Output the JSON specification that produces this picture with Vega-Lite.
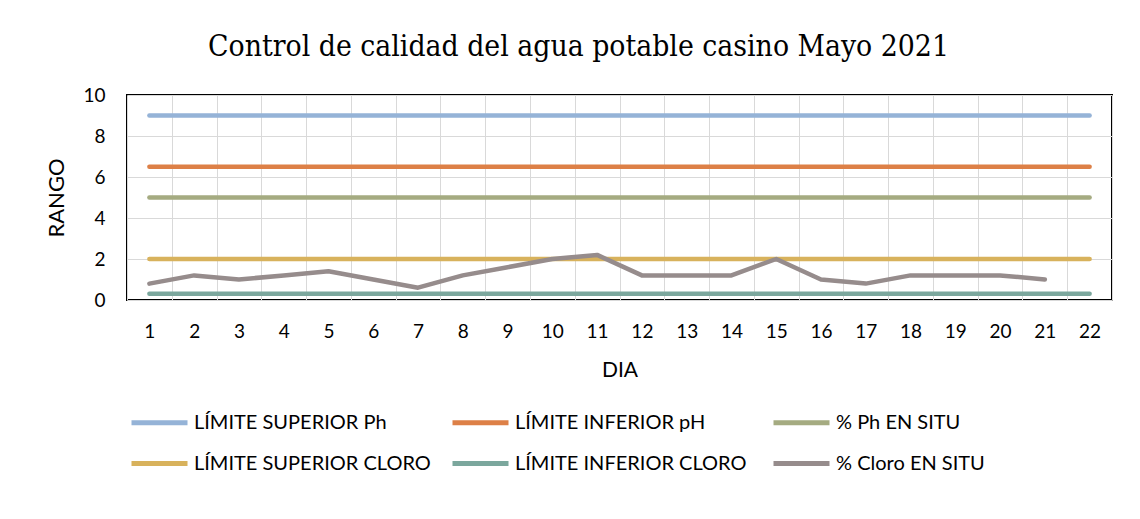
{
  "$schema": "https://vega.github.io/schema/vega-lite/v6.json",
  "autosize": {"type": "none"},
  "width": 985,
  "height": 205,
  "padding": {"left": 127, "top": 95, "right": 28, "bottom": 219},
  "background": "white",
  "title": {
    "text": "Control de calidad del agua potable casino Mayo 2021",
    "font": "DejaVu Serif Condensed",
    "fontSize": 29.8,
    "fontWeight": "normal",
    "color": "#000000",
    "anchor": "middle",
    "baseline": "alphabetic",
    "dx": -41,
    "offset": 0
  },
  "data": {
    "values": [
      {"serie": "LÍMITE SUPERIOR Ph", "dia": 1, "valor": 9}, {"serie": "LÍMITE SUPERIOR Ph", "dia": 2, "valor": 9}, {"serie": "LÍMITE SUPERIOR Ph", "dia": 3, "valor": 9}, {"serie": "LÍMITE SUPERIOR Ph", "dia": 4, "valor": 9}, {"serie": "LÍMITE SUPERIOR Ph", "dia": 5, "valor": 9}, {"serie": "LÍMITE SUPERIOR Ph", "dia": 6, "valor": 9}, {"serie": "LÍMITE SUPERIOR Ph", "dia": 7, "valor": 9}, {"serie": "LÍMITE SUPERIOR Ph", "dia": 8, "valor": 9}, {"serie": "LÍMITE SUPERIOR Ph", "dia": 9, "valor": 9}, {"serie": "LÍMITE SUPERIOR Ph", "dia": 10, "valor": 9}, {"serie": "LÍMITE SUPERIOR Ph", "dia": 11, "valor": 9}, {"serie": "LÍMITE SUPERIOR Ph", "dia": 12, "valor": 9}, {"serie": "LÍMITE SUPERIOR Ph", "dia": 13, "valor": 9}, {"serie": "LÍMITE SUPERIOR Ph", "dia": 14, "valor": 9}, {"serie": "LÍMITE SUPERIOR Ph", "dia": 15, "valor": 9}, {"serie": "LÍMITE SUPERIOR Ph", "dia": 16, "valor": 9}, {"serie": "LÍMITE SUPERIOR Ph", "dia": 17, "valor": 9}, {"serie": "LÍMITE SUPERIOR Ph", "dia": 18, "valor": 9}, {"serie": "LÍMITE SUPERIOR Ph", "dia": 19, "valor": 9}, {"serie": "LÍMITE SUPERIOR Ph", "dia": 20, "valor": 9}, {"serie": "LÍMITE SUPERIOR Ph", "dia": 21, "valor": 9}, {"serie": "LÍMITE SUPERIOR Ph", "dia": 22, "valor": 9},
      {"serie": "LÍMITE INFERIOR pH", "dia": 1, "valor": 6.5}, {"serie": "LÍMITE INFERIOR pH", "dia": 2, "valor": 6.5}, {"serie": "LÍMITE INFERIOR pH", "dia": 3, "valor": 6.5}, {"serie": "LÍMITE INFERIOR pH", "dia": 4, "valor": 6.5}, {"serie": "LÍMITE INFERIOR pH", "dia": 5, "valor": 6.5}, {"serie": "LÍMITE INFERIOR pH", "dia": 6, "valor": 6.5}, {"serie": "LÍMITE INFERIOR pH", "dia": 7, "valor": 6.5}, {"serie": "LÍMITE INFERIOR pH", "dia": 8, "valor": 6.5}, {"serie": "LÍMITE INFERIOR pH", "dia": 9, "valor": 6.5}, {"serie": "LÍMITE INFERIOR pH", "dia": 10, "valor": 6.5}, {"serie": "LÍMITE INFERIOR pH", "dia": 11, "valor": 6.5}, {"serie": "LÍMITE INFERIOR pH", "dia": 12, "valor": 6.5}, {"serie": "LÍMITE INFERIOR pH", "dia": 13, "valor": 6.5}, {"serie": "LÍMITE INFERIOR pH", "dia": 14, "valor": 6.5}, {"serie": "LÍMITE INFERIOR pH", "dia": 15, "valor": 6.5}, {"serie": "LÍMITE INFERIOR pH", "dia": 16, "valor": 6.5}, {"serie": "LÍMITE INFERIOR pH", "dia": 17, "valor": 6.5}, {"serie": "LÍMITE INFERIOR pH", "dia": 18, "valor": 6.5}, {"serie": "LÍMITE INFERIOR pH", "dia": 19, "valor": 6.5}, {"serie": "LÍMITE INFERIOR pH", "dia": 20, "valor": 6.5}, {"serie": "LÍMITE INFERIOR pH", "dia": 21, "valor": 6.5}, {"serie": "LÍMITE INFERIOR pH", "dia": 22, "valor": 6.5},
      {"serie": "% Ph EN SITU", "dia": 1, "valor": 5}, {"serie": "% Ph EN SITU", "dia": 2, "valor": 5}, {"serie": "% Ph EN SITU", "dia": 3, "valor": 5}, {"serie": "% Ph EN SITU", "dia": 4, "valor": 5}, {"serie": "% Ph EN SITU", "dia": 5, "valor": 5}, {"serie": "% Ph EN SITU", "dia": 6, "valor": 5}, {"serie": "% Ph EN SITU", "dia": 7, "valor": 5}, {"serie": "% Ph EN SITU", "dia": 8, "valor": 5}, {"serie": "% Ph EN SITU", "dia": 9, "valor": 5}, {"serie": "% Ph EN SITU", "dia": 10, "valor": 5}, {"serie": "% Ph EN SITU", "dia": 11, "valor": 5}, {"serie": "% Ph EN SITU", "dia": 12, "valor": 5}, {"serie": "% Ph EN SITU", "dia": 13, "valor": 5}, {"serie": "% Ph EN SITU", "dia": 14, "valor": 5}, {"serie": "% Ph EN SITU", "dia": 15, "valor": 5}, {"serie": "% Ph EN SITU", "dia": 16, "valor": 5}, {"serie": "% Ph EN SITU", "dia": 17, "valor": 5}, {"serie": "% Ph EN SITU", "dia": 18, "valor": 5}, {"serie": "% Ph EN SITU", "dia": 19, "valor": 5}, {"serie": "% Ph EN SITU", "dia": 20, "valor": 5}, {"serie": "% Ph EN SITU", "dia": 21, "valor": 5}, {"serie": "% Ph EN SITU", "dia": 22, "valor": 5},
      {"serie": "LÍMITE SUPERIOR CLORO", "dia": 1, "valor": 2}, {"serie": "LÍMITE SUPERIOR CLORO", "dia": 2, "valor": 2}, {"serie": "LÍMITE SUPERIOR CLORO", "dia": 3, "valor": 2}, {"serie": "LÍMITE SUPERIOR CLORO", "dia": 4, "valor": 2}, {"serie": "LÍMITE SUPERIOR CLORO", "dia": 5, "valor": 2}, {"serie": "LÍMITE SUPERIOR CLORO", "dia": 6, "valor": 2}, {"serie": "LÍMITE SUPERIOR CLORO", "dia": 7, "valor": 2}, {"serie": "LÍMITE SUPERIOR CLORO", "dia": 8, "valor": 2}, {"serie": "LÍMITE SUPERIOR CLORO", "dia": 9, "valor": 2}, {"serie": "LÍMITE SUPERIOR CLORO", "dia": 10, "valor": 2}, {"serie": "LÍMITE SUPERIOR CLORO", "dia": 11, "valor": 2}, {"serie": "LÍMITE SUPERIOR CLORO", "dia": 12, "valor": 2}, {"serie": "LÍMITE SUPERIOR CLORO", "dia": 13, "valor": 2}, {"serie": "LÍMITE SUPERIOR CLORO", "dia": 14, "valor": 2}, {"serie": "LÍMITE SUPERIOR CLORO", "dia": 15, "valor": 2}, {"serie": "LÍMITE SUPERIOR CLORO", "dia": 16, "valor": 2}, {"serie": "LÍMITE SUPERIOR CLORO", "dia": 17, "valor": 2}, {"serie": "LÍMITE SUPERIOR CLORO", "dia": 18, "valor": 2}, {"serie": "LÍMITE SUPERIOR CLORO", "dia": 19, "valor": 2}, {"serie": "LÍMITE SUPERIOR CLORO", "dia": 20, "valor": 2}, {"serie": "LÍMITE SUPERIOR CLORO", "dia": 21, "valor": 2}, {"serie": "LÍMITE SUPERIOR CLORO", "dia": 22, "valor": 2},
      {"serie": "LÍMITE INFERIOR CLORO", "dia": 1, "valor": 0.3}, {"serie": "LÍMITE INFERIOR CLORO", "dia": 2, "valor": 0.3}, {"serie": "LÍMITE INFERIOR CLORO", "dia": 3, "valor": 0.3}, {"serie": "LÍMITE INFERIOR CLORO", "dia": 4, "valor": 0.3}, {"serie": "LÍMITE INFERIOR CLORO", "dia": 5, "valor": 0.3}, {"serie": "LÍMITE INFERIOR CLORO", "dia": 6, "valor": 0.3}, {"serie": "LÍMITE INFERIOR CLORO", "dia": 7, "valor": 0.3}, {"serie": "LÍMITE INFERIOR CLORO", "dia": 8, "valor": 0.3}, {"serie": "LÍMITE INFERIOR CLORO", "dia": 9, "valor": 0.3}, {"serie": "LÍMITE INFERIOR CLORO", "dia": 10, "valor": 0.3}, {"serie": "LÍMITE INFERIOR CLORO", "dia": 11, "valor": 0.3}, {"serie": "LÍMITE INFERIOR CLORO", "dia": 12, "valor": 0.3}, {"serie": "LÍMITE INFERIOR CLORO", "dia": 13, "valor": 0.3}, {"serie": "LÍMITE INFERIOR CLORO", "dia": 14, "valor": 0.3}, {"serie": "LÍMITE INFERIOR CLORO", "dia": 15, "valor": 0.3}, {"serie": "LÍMITE INFERIOR CLORO", "dia": 16, "valor": 0.3}, {"serie": "LÍMITE INFERIOR CLORO", "dia": 17, "valor": 0.3}, {"serie": "LÍMITE INFERIOR CLORO", "dia": 18, "valor": 0.3}, {"serie": "LÍMITE INFERIOR CLORO", "dia": 19, "valor": 0.3}, {"serie": "LÍMITE INFERIOR CLORO", "dia": 20, "valor": 0.3}, {"serie": "LÍMITE INFERIOR CLORO", "dia": 21, "valor": 0.3}, {"serie": "LÍMITE INFERIOR CLORO", "dia": 22, "valor": 0.3},
      {"serie": "% Cloro EN SITU", "dia": 1, "valor": 0.8}, {"serie": "% Cloro EN SITU", "dia": 2, "valor": 1.2}, {"serie": "% Cloro EN SITU", "dia": 3, "valor": 1.0},
      {"serie": "% Cloro EN SITU", "dia": 4, "valor": 1.2}, {"serie": "% Cloro EN SITU", "dia": 5, "valor": 1.4}, {"serie": "% Cloro EN SITU", "dia": 6, "valor": 1.0},
      {"serie": "% Cloro EN SITU", "dia": 7, "valor": 0.6}, {"serie": "% Cloro EN SITU", "dia": 8, "valor": 1.2}, {"serie": "% Cloro EN SITU", "dia": 9, "valor": 1.6},
      {"serie": "% Cloro EN SITU", "dia": 10, "valor": 2.0}, {"serie": "% Cloro EN SITU", "dia": 11, "valor": 2.2}, {"serie": "% Cloro EN SITU", "dia": 12, "valor": 1.2},
      {"serie": "% Cloro EN SITU", "dia": 13, "valor": 1.2}, {"serie": "% Cloro EN SITU", "dia": 14, "valor": 1.2}, {"serie": "% Cloro EN SITU", "dia": 15, "valor": 2.0},
      {"serie": "% Cloro EN SITU", "dia": 16, "valor": 1.0}, {"serie": "% Cloro EN SITU", "dia": 17, "valor": 0.8}, {"serie": "% Cloro EN SITU", "dia": 18, "valor": 1.2},
      {"serie": "% Cloro EN SITU", "dia": 19, "valor": 1.2}, {"serie": "% Cloro EN SITU", "dia": 20, "valor": 1.2}, {"serie": "% Cloro EN SITU", "dia": 21, "valor": 1.0}
    ]
  },
  "mark": {"type": "line", "strokeWidth": 4.5, "strokeCap": "round", "strokeJoin": "round"},
  "encoding": {
    "x": {
      "field": "dia",
      "type": "ordinal",
      "title": "DIA",
      "scale": {"type": "band", "paddingInner": 0, "paddingOuter": 0},
      "axis": {
        "labelAngle": 0,
        "tickBand": "extent",
        "ticks": false,
        "domain": false,
        "grid": true,
        "gridColor": "#d9d9d9",
        "gridWidth": 1,
        "labelFont": "Lato",
        "labelFontSize": 19,
        "labelColor": "#000000",
        "labelPadding": 22,
        "titleFont": "Lato",
        "titleFontSize": 21,
        "titleFontWeight": "normal",
        "titleColor": "#000000",
        "titlePadding": 18
      }
    },
    "y": {
      "field": "valor",
      "type": "quantitative",
      "title": "RANGO",
      "scale": {"domain": [0, 10], "nice": false},
      "axis": {
        "values": [0, 2, 4, 6, 8, 10],
        "ticks": false,
        "domain": false,
        "grid": true,
        "gridColor": "#d9d9d9",
        "gridWidth": 1,
        "labelFont": "Lato",
        "labelFontSize": 19,
        "labelColor": "#000000",
        "labelPadding": 22,
        "titleFont": "Lato",
        "titleFontSize": 22,
        "titleFontWeight": "normal",
        "titleColor": "#000000",
        "titlePadding": 14
      }
    },
    "color": {
      "field": "serie",
      "type": "nominal",
      "title": null,
      "scale": {
        "domain": ["LÍMITE SUPERIOR Ph", "LÍMITE INFERIOR pH", "% Ph EN SITU", "LÍMITE SUPERIOR CLORO", "LÍMITE INFERIOR CLORO", "% Cloro EN SITU"],
        "range": ["#95B3D7", "#DD8047", "#A5AB81", "#D8B25C", "#7BA79D", "#968C8C"]
      },
      "legend": {
        "orient": "none",
        "legendX": 2,
        "legendY": 297,
        "direction": "horizontal",
        "columns": 3,
        "gridAlign": "all",
        "columnPadding": 11,
        "rowPadding": -16,
        "padding": 0,
        "symbolType": "stroke",
        "symbolSize": 3136,
        "symbolStrokeWidth": 5,
        "labelOffset": 4,
        "labelFont": "Lato",
        "labelFontSize": 20,
        "labelColor": "#000000",
        "labelLimit": 400
      }
    }
  },
  "config": {
    "view": {"stroke": "#000000", "strokeWidth": 2},
    "axis": {"gridDash": []}
  }
}
